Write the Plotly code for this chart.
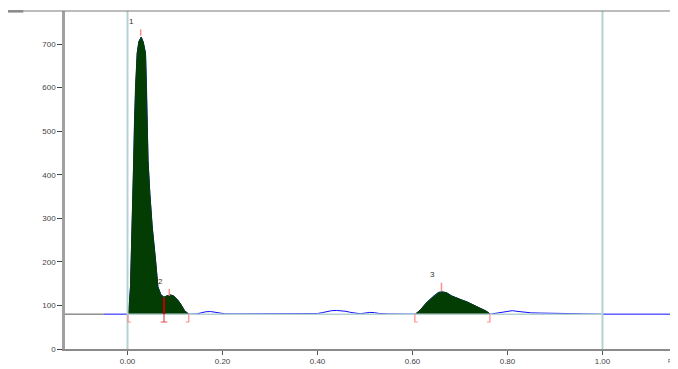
import plotly.graph_objects as go

# ---------------- data ----------------
baseline = 80

peak1_x = [0.000, 0.003, 0.0063, 0.0078, 0.0099, 0.0112, 0.0133, 0.0147, 0.0168, 0.0204,
           0.024, 0.0288, 0.033, 0.0379, 0.040, 0.0415, 0.0432, 0.047, 0.052, 0.059,
           0.064, 0.070, 0.0765, 0.083, 0.0905, 0.097, 0.101, 0.106, 0.112, 0.120, 0.129]
peak1_y = [80, 90, 143, 204, 280, 357, 433, 525, 602, 679,
           706, 716, 705, 679, 602, 525, 433, 357, 280, 204,
           143, 125, 119, 122, 124, 122, 118, 112, 103, 88, 80]

noise_x = [0.129, 0.145, 0.155, 0.165, 0.175, 0.185, 0.195, 0.205, 0.22, 0.26, 0.30, 0.34,
           0.38, 0.40, 0.41, 0.42, 0.43, 0.44, 0.45, 0.46, 0.47, 0.48, 0.49, 0.50, 0.51,
           0.52, 0.53, 0.55, 0.58, 0.606]
noise_y = [80, 80.5, 83, 85.5, 86, 84.5, 82, 80.8, 80.6, 80.8, 80.6, 80.8,
           80.8, 81.5, 83.5, 86, 88, 88.5, 88, 86.5, 84, 82, 81, 82.5, 84,
           83.5, 81.5, 80.6, 80.3, 80]

peak3_x = [0.606, 0.616, 0.631, 0.645, 0.655, 0.663, 0.672, 0.682, 0.694, 0.705,
           0.715, 0.728, 0.742, 0.755, 0.764]
peak3_y = [80, 89, 108, 122, 130, 131, 129, 122, 116, 112,
           108, 101, 93, 87, 80]

tail_x = [0.764, 0.775, 0.79, 0.80, 0.81, 0.82, 0.835, 0.85, 0.87, 0.90, 0.93, 0.96, 1.00]
tail_y = [80, 82, 85, 87, 88, 86.5, 84, 83, 82.5, 81.5, 80.6, 80.8, 80]

pre_x = [-0.05, 0.0]
post_x = [1.00, 1.16]
x_left = -0.1316
x_right = 1.159

peak_labels = ["1", "2", "3"]
peak_label_x = [0.009, 0.069, 0.643]
peak_label_y = [752, 156, 170]

apex_x = [0.0278, 0.088, 0.661]
apex_lo = [719, 122, 133]
apex_hi = [734, 138, 152]

start_brackets = [0.001, 0.605]
end_brackets = [0.129, 0.763]
drop_x = [0.0768]
drop_top = [119]
bracket_low = 62

xtick_vals = [0.0, 0.2, 0.4, 0.6, 0.8, 1.0]
xtick_text = ["0.00", "0.20", "0.40", "0.60", "0.80", "1.00"]
ytick_vals = [0, 100, 200, 300, 400, 500, 600, 700]

# ---------------- figure ----------------
green = "#043d04"
blue = "#1010ff"
teal = "#b4d2d2"
pink = "#ff8c8c"

fig = go.Figure()

# whole signal (blue)
sig_x = pre_x + peak1_x + noise_x[1:] + peak3_x[1:] + tail_x[1:] + post_x[1:]
sig_y = [baseline, baseline] + peak1_y + noise_y[1:] + peak3_y[1:] + tail_y[1:] + [baseline]
fig.add_trace(go.Scatter(x=sig_x, y=sig_y, mode="lines",
                         line=dict(color=blue, width=1), hoverinfo="skip"))

# integrated peak areas
for px, py in [(peak1_x, peak1_y), (peak3_x, peak3_y)]:
    fig.add_trace(go.Scatter(x=px, y=py, mode="lines", fill="toself",
                             fillcolor=green, line=dict(color=green, width=1),
                             hoverinfo="skip"))

# left part of baseline (dark gray)
fig.add_trace(go.Scatter(x=[x_left, pre_x[0]], y=[baseline, baseline], mode="lines",
                         line=dict(color="#555555", width=1), hoverinfo="skip"))

shapes = []
# integration baseline
shapes.append(dict(type="line", xref="x", yref="y", x0=0, x1=1, y0=baseline, y1=baseline,
                   line=dict(color=teal, width=1.5), layer="above"))
# vertical reference lines
for xv in [0.0, 1.0]:
    shapes.append(dict(type="line", xref="x", yref="paper", x0=xv, x1=xv, y0=0, y1=1,
                       line=dict(color=teal, width=2)))
# apex markers
for ax, lo, hi in zip(apex_x, apex_lo, apex_hi):
    shapes.append(dict(type="line", xref="x", yref="y", x0=ax, x1=ax, y0=lo, y1=hi,
                       line=dict(color=pink, width=1.5)))
# start brackets "["
for bx in start_brackets:
    shapes.append(dict(type="path", xref="x", yref="y",
                       path=f"M {bx} {baseline} L {bx} {bracket_low} L {bx + 0.006} {bracket_low}",
                       line=dict(color=pink, width=1.2)))
# end brackets "]"
for bx in end_brackets:
    shapes.append(dict(type="path", xref="x", yref="y",
                       path=f"M {bx} {baseline} L {bx} {bracket_low} L {bx - 0.006} {bracket_low}",
                       line=dict(color=pink, width=1.2)))
# drop line between peaks 1 and 2
for dx, dt in zip(drop_x, drop_top):
    shapes.append(dict(type="line", xref="x", yref="y", x0=dx, x1=dx, y0=baseline, y1=dt,
                       line=dict(color="#c00000", width=2)))
    shapes.append(dict(type="path", xref="x", yref="y",
                       path=f"M {dx} {baseline} L {dx} {bracket_low} M {dx - 0.007} {bracket_low} L {dx + 0.007} {bracket_low}",
                       line=dict(color="#e05050", width=1.2)))
# top border
shapes.append(dict(type="line", xref="paper", yref="paper", x0=-0.093, x1=1, y0=1, y1=1,
                   line=dict(color="#7a7a7a", width=1.2)))
shapes.append(dict(type="line", xref="paper", yref="paper", x0=-0.093, x1=-0.068, y0=0.999, y1=0.999,
                   line=dict(color="#8a8a8a", width=2.5)))

annotations = []
for t, lx, ly in zip(peak_labels, peak_label_x, peak_label_y):
    annotations.append(dict(x=lx, y=ly, xref="x", yref="y", text=t, showarrow=False,
                            font=dict(family="Liberation Sans, Arial", size=8, color="#333333")))
annotations.append(dict(x=0.993, y=-0.05, xref="paper", yref="paper", text="R", showarrow=False,
                        font=dict(family="Liberation Sans, Arial", size=5, color="#444444")))

# the page body has an 8 px margin, so the figure is sized/offset to compensate
fig.update_layout(
    width=670, height=361,
    margin=dict(l=57, r=0, t=3, b=20),
    paper_bgcolor="white", plot_bgcolor="white",
    showlegend=False,
    shapes=shapes, annotations=annotations,
    font=dict(family="Liberation Sans, Arial", size=8, color="#444444"),
)
fig.update_xaxes(range=[x_left, x_right], showgrid=False, zeroline=False,
                 showline=True, linecolor="#8a8a8a", linewidth=1.5,
                 ticks="outside", ticklen=4, tickcolor="#555555",
                 tickvals=xtick_vals, ticktext=xtick_text,
                 tickfont=dict(size=8, color="#444444"))
fig.update_yaxes(range=[0, 776], showgrid=False, zeroline=False,
                 showline=True, linecolor="#a0a0a0", linewidth=2.5,
                 ticks="outside", ticklen=5, tickcolor="#444444",
                 tickvals=ytick_vals,
                 tickfont=dict(size=8, color="#444444"))

fig.write_html("out.html")
